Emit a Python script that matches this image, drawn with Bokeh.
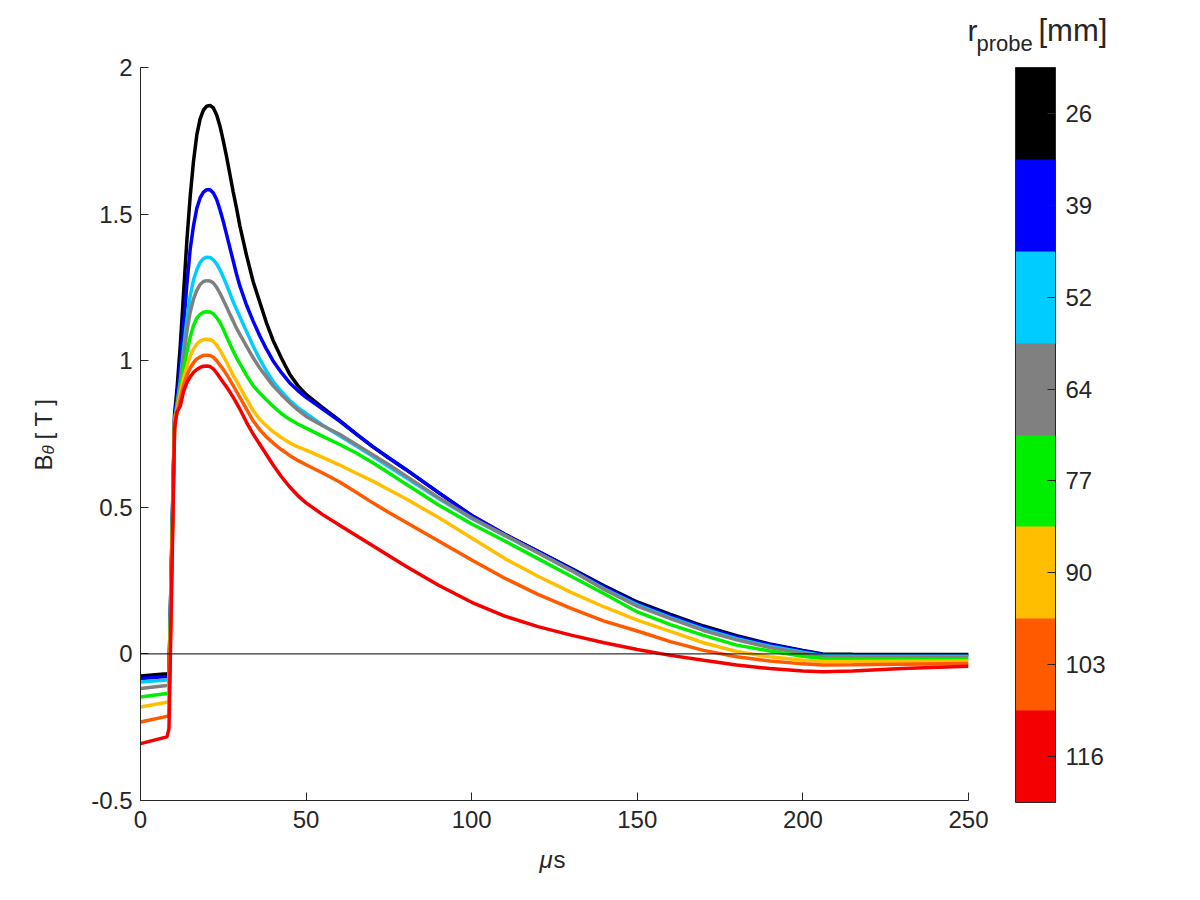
import math
from bokeh.plotting import figure
from bokeh.models import (Range1d, FixedTicker, ColorBar, LinearColorMapper, Label,
                          Span, AllLabels)
from bokeh.embed import file_html
from bokeh.resources import INLINE

# ---------------- data ----------------
t_us = [0, 8, 8.6, 10.3,
        11, 12, 13, 14, 15, 16, 17, 18, 19, 20,
        21, 22, 23, 24, 25, 26, 27, 28, 29, 30,
        32, 34, 36, 38, 40, 42.5, 45, 47.5, 50,
        55, 60, 65, 70, 75, 80, 90, 100, 110, 120, 130,
        140, 150, 160, 170, 180, 190, 200, 206, 215, 230, 250]

b_26 = [-0.075, -0.068, -0.065, 0.82,
        0.90, 1.05, 1.23, 1.41, 1.56, 1.68, 1.77, 1.825, 1.855, 1.868,
        1.871, 1.862, 1.838, 1.80, 1.75, 1.695, 1.635, 1.575, 1.52, 1.46,
        1.36, 1.27, 1.20, 1.13, 1.07, 1.01, 0.955, 0.915, 0.885,
        0.84, 0.797, 0.751, 0.708, 0.668, 0.63, 0.55, 0.472, 0.408, 0.35, 0.292,
        0.232, 0.177, 0.135, 0.095, 0.062, 0.034, 0.012, 0.0, -0.001, -0.002, -0.002]
b_39 = [-0.084, -0.077, -0.074, 0.81,
        0.87, 0.99, 1.12, 1.26, 1.38, 1.46, 1.52, 1.555, 1.575, 1.583,
        1.583, 1.572, 1.55, 1.515, 1.475, 1.43, 1.385, 1.34, 1.295, 1.255,
        1.19, 1.135, 1.085, 1.04, 1.0, 0.96, 0.925, 0.898, 0.875,
        0.835, 0.795, 0.751, 0.708, 0.668, 0.63, 0.55, 0.472, 0.408, 0.35, 0.29,
        0.228, 0.172, 0.13, 0.09, 0.058, 0.032, 0.01, -0.002, -0.003, -0.004, -0.004]
b_52 = [-0.096, -0.089, -0.086, 0.80,
        0.85, 0.93, 1.04, 1.14, 1.22, 1.275, 1.31, 1.335, 1.348, 1.353,
        1.352, 1.344, 1.33, 1.31, 1.285, 1.258, 1.23, 1.2, 1.175, 1.15,
        1.1, 1.05, 1.005, 0.965, 0.93, 0.895, 0.865, 0.84, 0.82,
        0.78, 0.745, 0.71, 0.675, 0.638, 0.602, 0.53, 0.462, 0.403, 0.345, 0.285,
        0.222, 0.167, 0.124, 0.084, 0.052, 0.026, 0.006, -0.005, -0.006, -0.007, -0.007]
b_64 = [-0.118, -0.108, -0.105, 0.80,
        0.84, 0.92, 1.01, 1.10, 1.165, 1.21, 1.24, 1.26, 1.27, 1.273,
        1.272, 1.265, 1.25, 1.23, 1.207, 1.183, 1.158, 1.135, 1.11, 1.09,
        1.05, 1.01, 0.975, 0.945, 0.915, 0.885, 0.857, 0.832, 0.81,
        0.778, 0.75, 0.715, 0.68, 0.645, 0.608, 0.533, 0.464, 0.405, 0.345, 0.285,
        0.22, 0.163, 0.12, 0.08, 0.048, 0.022, 0.002, -0.01, -0.011, -0.011, -0.012]
b_77 = [-0.147, -0.135, -0.132, 0.79,
        0.83, 0.90, 0.97, 1.03, 1.08, 1.12, 1.145, 1.158, 1.165, 1.167,
        1.166, 1.16, 1.147, 1.13, 1.107, 1.082, 1.057, 1.032, 1.01, 0.99,
        0.95, 0.915, 0.89, 0.867, 0.845, 0.82, 0.80, 0.784, 0.77,
        0.742, 0.715, 0.686, 0.653, 0.617, 0.58, 0.508, 0.443, 0.385, 0.325, 0.265,
        0.205, 0.143, 0.10, 0.063, 0.03, 0.01, -0.008, -0.016, -0.017, -0.017, -0.018]
b_90 = [-0.181, -0.165, -0.162, 0.79,
        0.83, 0.89, 0.94, 0.98, 1.015, 1.04, 1.057, 1.067, 1.072, 1.073,
        1.072, 1.066, 1.053, 1.036, 1.016, 0.995, 0.972, 0.95, 0.93, 0.91,
        0.87, 0.83, 0.80, 0.778, 0.758, 0.738, 0.72, 0.706, 0.695,
        0.67, 0.645, 0.617, 0.59, 0.56, 0.53, 0.465, 0.395, 0.325, 0.265, 0.21,
        0.16, 0.115, 0.077, 0.038, 0.008, -0.01, -0.022, -0.026, -0.026, -0.025, -0.024]
b_103 = [-0.232, -0.213, -0.208, 0.79,
         0.82, 0.87, 0.915, 0.95, 0.975, 0.993, 1.006, 1.013, 1.018, 1.019,
         1.018, 1.012, 1.0, 0.985, 0.97, 0.953, 0.934, 0.915, 0.895, 0.875,
         0.835, 0.795, 0.765, 0.74, 0.72, 0.697, 0.677, 0.66, 0.645,
         0.617, 0.587, 0.552, 0.516, 0.482, 0.45, 0.385, 0.32, 0.258, 0.203, 0.155,
         0.112, 0.078, 0.042, 0.012, -0.01, -0.024, -0.034, -0.038, -0.037, -0.035, -0.033]
b_116 = [-0.306, -0.283, -0.255, 0.77,
         0.825, 0.845, 0.895, 0.925, 0.945, 0.96, 0.97, 0.977, 0.981, 0.982,
         0.98, 0.972, 0.958, 0.942, 0.926, 0.91, 0.893, 0.875, 0.855, 0.835,
         0.79, 0.75, 0.715, 0.68, 0.645, 0.605, 0.57, 0.54, 0.515,
         0.475, 0.44, 0.405, 0.37, 0.335, 0.3, 0.234, 0.176, 0.129, 0.093, 0.064,
         0.038, 0.015, -0.005, -0.022, -0.038, -0.05, -0.058, -0.061, -0.058, -0.05, -0.042]

radii_mm = [26, 39, 52, 64, 77, 90, 103, 116]
series = [b_26, b_39, b_52, b_64, b_77, b_90, b_103, b_116]
colors = ["#000000", "#0000FF", "#00CCFF", "#808080",
          "#00EE00", "#FFBF00", "#FF5A00", "#F50000"]

x_ticks = [0, 50, 100, 150, 200, 250]
y_ticks = [-0.5, 0, 0.5, 1, 1.5, 2]
y_tick_labels = ["-0.5", "0", "0.5", "1", "1.5", "2"]

# ---------------- styling ----------------
FONT = "Liberation Sans"
TXT = "#262626"

p = figure(width=1200, height=900,
           x_range=Range1d(0, 250), y_range=Range1d(-0.5, 2),
           output_backend="svg", toolbar_location=None,
           min_border_left=140, min_border_right=232,
           min_border_top=67, min_border_bottom=100)

p.grid.visible = False
p.outline_line_color = None
p.background_fill_color = "white"
p.border_fill_color = "white"

p.add_layout(Span(location=0, dimension="width", line_color="black", line_width=1))

for ys, c in zip(series, colors):
    p.line(t_us, ys, line_color=c, line_width=3.5)

p.xaxis.ticker = FixedTicker(ticks=x_ticks)
p.yaxis.ticker = FixedTicker(ticks=y_ticks)
p.yaxis.major_label_overrides = {k: v for k, v in zip(y_ticks, y_tick_labels)}
for ax in (p.xaxis[0], p.yaxis[0]):
    ax.axis_line_color = TXT
    ax.axis_line_width = 1
    ax.major_tick_line_color = TXT
    ax.major_tick_in = 8
    ax.major_tick_out = 0
    ax.minor_tick_line_color = None
    ax.major_label_text_font = FONT
    ax.major_label_text_font_size = "24px"
    ax.major_label_text_color = TXT
p.yaxis.major_label_standoff = 8
p.xaxis.major_label_standoff = 10

# colour bar (bottom -> top)
n = len(radii_mm)
mapper = LinearColorMapper(palette=list(reversed(colors)), low=0, high=n)
cb_ticks = [n - 1 - i + 0.5 for i in range(n)]
cb = ColorBar(color_mapper=mapper,
              ticker=FixedTicker(ticks=cb_ticks),
              major_label_overrides={tk: str(r) for tk, r in zip(cb_ticks, radii_mm)},
              major_label_policy=AllLabels(),
              width=40, height=735, location=(47, -2),
              margin=0, padding=0,
              major_tick_in=8, major_tick_out=0,
              major_tick_line_color=TXT, minor_tick_line_color=None,
              bar_line_color=TXT, bar_line_width=1,
              border_line_color=None, background_fill_color=None,
              label_standoff=10,
              major_label_text_font=FONT, major_label_text_font_size="24px",
              major_label_text_color=TXT)
p.add_layout(cb, "right")

# text labels in canvas pixel coordinates (side panels, so they are not clipped)
def lab(text, px, py, size, panel, angle=0, style="normal"):
    p.add_layout(Label(x=px, y=py, x_units="canvas", y_units="canvas",
                       text=text, angle=angle,
                       text_font=FONT, text_font_size=size, text_color=TXT,
                       text_font_style=style,
                       text_align="left", text_baseline="alphabetic"), panel)

# y axis label  B_theta [ T ]
lab("B", 43, 470, "24px", "left", angle=math.pi / 2)
lab("\u03b8", 48, 454, "17px", "left", angle=math.pi / 2, style="italic")
lab("[ T ]", 43, 439, "24px", "left", angle=math.pi / 2)
# x axis label  mu s
lab("\u03bc", 539, 859, "24px", "below", style="italic")
lab("s", 553, 859, "24px", "below")
# colour bar title  r_probe [mm]
lab("r", 967, 30, "30px", "above")
lab("probe", 976, 43, "22px", "above")
lab("[mm]", 1038, 30, "31px", "right")

open("out.html", "w").write(file_html(p, INLINE))
